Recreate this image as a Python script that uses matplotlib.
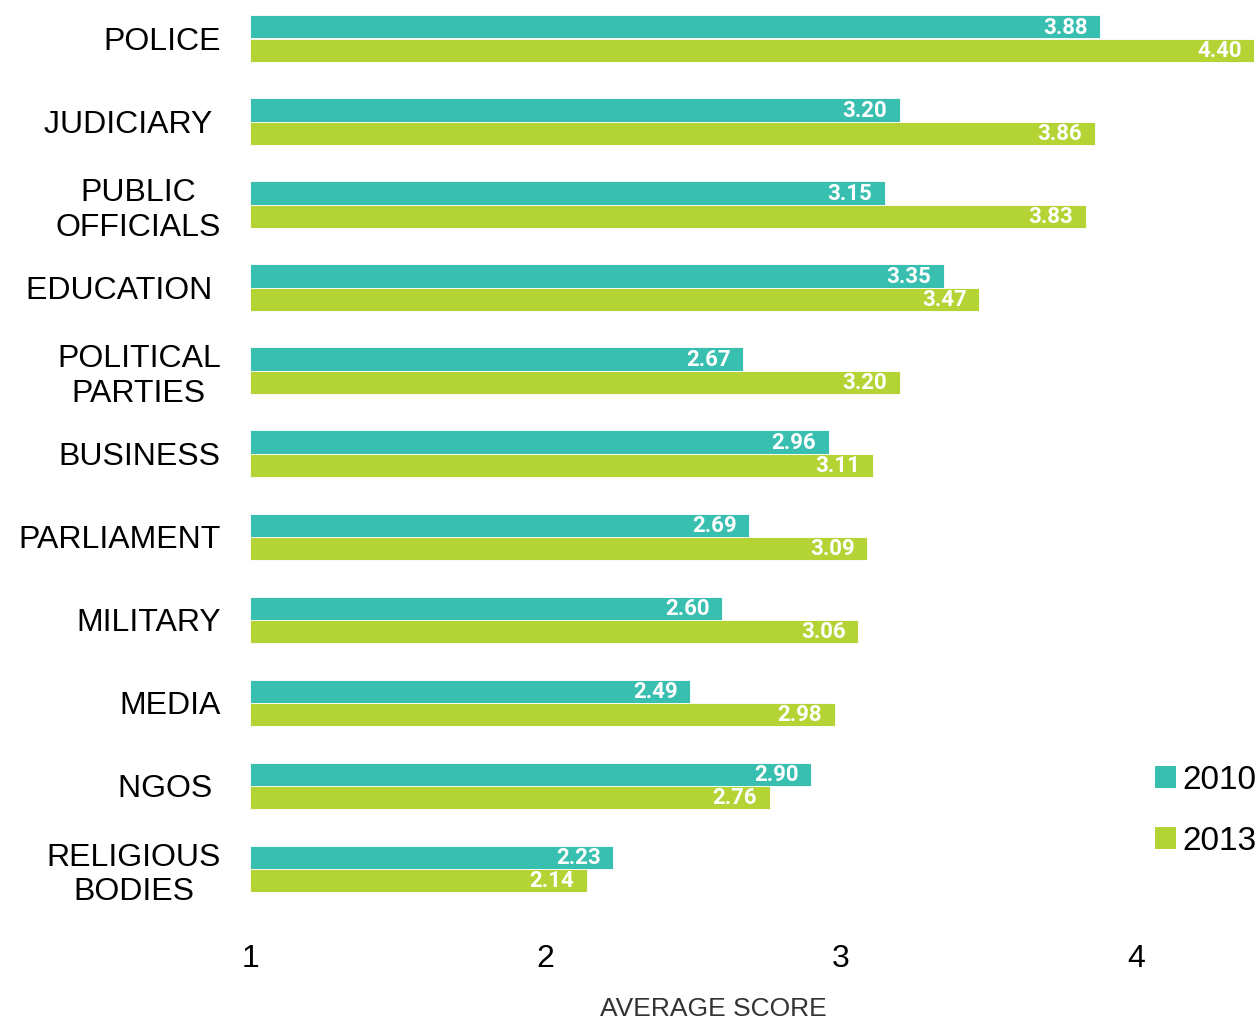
import matplotlib
matplotlib.use('Agg')
import matplotlib.pyplot as plt
from matplotlib.patches import Patch
import numpy as np

plt.rcParams['font.family'] = ['Liberation Sans', 'DejaVu Sans']

categories = ['POLICE', 'JUDICIARY ', 'PUBLIC\nOFFICIALS', 'EDUCATION ',
              'POLITICAL\nPARTIES', 'BUSINESS', 'PARLIAMENT', 'MILITARY',
              'MEDIA', 'NGOS ', 'RELIGIOUS\nBODIES']
score_2010 = [3.88, 3.20, 3.15, 3.35, 2.67, 2.96, 2.69, 2.60, 2.49, 2.90, 2.23]
score_2013 = [4.40, 3.86, 3.83, 3.47, 3.20, 3.11, 3.09, 3.06, 2.98, 2.76, 2.14]
x_ticks = [1, 2, 3, 4]

C2010 = '#38BFB0'
C2013 = '#B4D334'

W, H = 1258, 1024
fig = plt.figure(figsize=(W / 100, H / 100), dpi=100)
ax = fig.add_axes([250 / W, 1 - 930 / H, (1254 - 250) / W, 930 / H])

y = np.arange(len(categories))
bh = 0.28
ax.barh(y - bh / 2, np.array(score_2010) - 1, height=bh, left=1,
        color=C2010, edgecolor='white', linewidth=0.6)
ax.barh(y + bh / 2, np.array(score_2013) - 1, height=bh, left=1,
        color=C2013, edgecolor='white', linewidth=0.6)

# value labels inside the bar ends
lab_kw = dict(textcoords='offset points', ha='right', va='center', color='white',
              fontsize=16, fontweight='bold', fontstretch='normal',
              family=['Roboto', 'Liberation Sans'])
for yi, v in zip(y - bh / 2, score_2010):
    ax.annotate(f'{v:.2f}', (v, yi), xytext=(-9, -0.5), **lab_kw)
for yi, v in zip(y + bh / 2, score_2013):
    ax.annotate(f'{v:.2f}', (v, yi), xytext=(-9, -0.5), **lab_kw)

ppu = 83.05
ax.set_ylim((930 - 38.5) / ppu, -38.5 / ppu)
ax.set_xlim(1, 4.4)

ax.set_yticks(y)
ax.set_yticklabels(categories, fontsize=23, multialignment='center')
ax.set_xticks(x_ticks)
ax.set_xticklabels([str(t) for t in x_ticks], fontsize=23)
ax.tick_params(axis='both', length=0)
ax.tick_params(axis='y', pad=21)
ax.tick_params(axis='x', pad=10)
for s in ax.spines.values():
    s.set_visible(False)

fig.text(713 / W, 1 - 1009 / H, 'AVERAGE SCORE', ha='center', va='center',
         fontsize=19, color='#333333')

handles = [Patch(facecolor=C2010, label='2010'), Patch(facecolor=C2013, label='2013')]
fig.legend(handles=handles, loc='upper left', bbox_to_anchor=(1155 / W, 1 - 765 / H),
           frameon=False, fontsize=24, handlelength=0.63, handleheight=0.63,
           handletextpad=0.2, labelspacing=0.9, borderpad=0, borderaxespad=0)

fig.savefig('out.png', dpi=100)
